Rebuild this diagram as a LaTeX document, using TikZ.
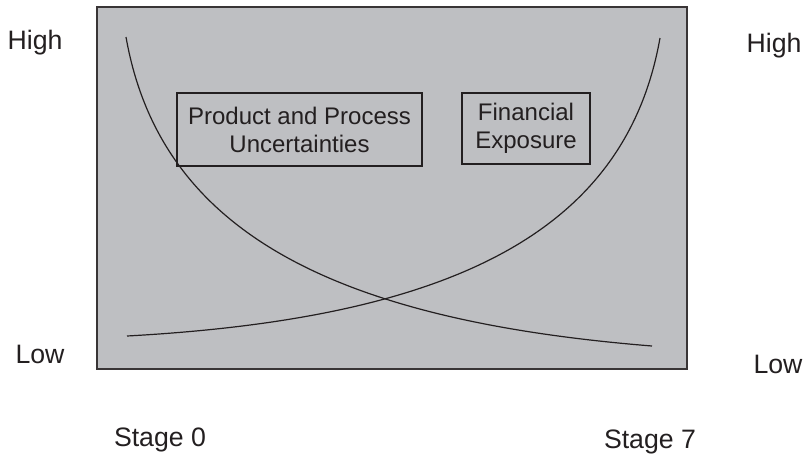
\documentclass[tikz,border=0pt]{standalone}
\usepackage{fontspec}
\setmainfont{Liberation Sans}
\usetikzlibrary{positioning,calc}
\definecolor{panelgray}{RGB}{190,191,194}
\definecolor{inkgray}{RGB}{35,31,32}
\tikzset{
    every node/.style={font=\fontsize{20}{24}\selectfont, text=inkgray},
    panel/.style={draw=inkgray!90, fill=panelgray, line width=1.1pt},
    axislabel/.style={anchor=base, inner sep=0pt},
    textbox/.style={draw=inkgray, line width=0.9pt, align=center, inner sep=2pt, font=\fontsize{18}{21}\selectfont},
    curve/.style={draw=inkgray, line width=0.9pt},
}

\begin{document}
\begin{tikzpicture}[x=0.75pt, y=-0.75pt]
\useasboundingbox (0,0) rectangle (804,454);
% the grey panel
\coordinate (tl) at (97,7);
\coordinate (br) at (687,369);
\draw[panel] (tl) rectangle (br);
% labels round the panel
\node[axislabel] (highL) at (35,49) {High};
\node[axislabel] (lowL) at (40,363) {Low};
\node[axislabel] (highR) at (774,52) {High};
\node[axislabel] (lowR) at (778,373) {Low};
\node[axislabel] (stage0) at (160,446) {Stage 0};
\node[axislabel] (stage7) at (650,448) {Stage 7};
% the two curves
\coordinate (uncTop) at (126,37);
\coordinate (uncEnd) at (652,346);
\coordinate (finStart) at (127,336);
\coordinate (finTop) at (660,38);
\draw[curve] (uncTop) .. controls (160,230) and (330,320) .. (uncEnd);
\draw[curve] (finStart) .. controls (456,318) and (626,230) .. (finTop);
% boxes with the two names
\node[textbox, minimum width=183.75pt, minimum height=54.75pt] (uncert) at (299.5,129.5) {Product and Process\\Uncertainties};
\node[textbox, minimum width=96pt, minimum height=53.25pt] (finexp) at (526,128.5) {Financial\\Exposure};
\end{tikzpicture}
\end{document}
